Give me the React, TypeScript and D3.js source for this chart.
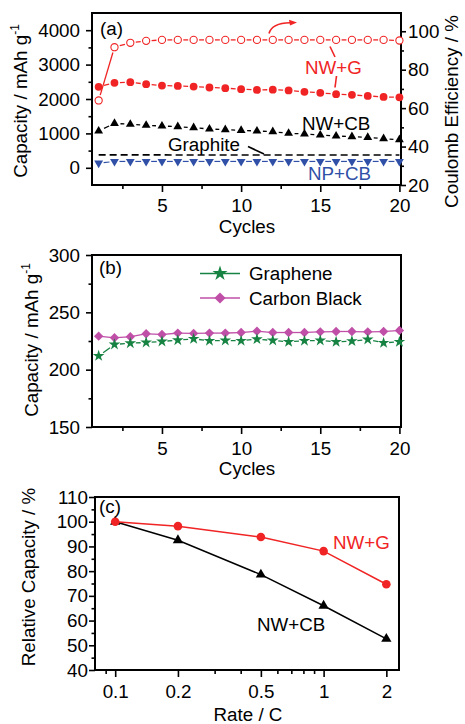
import {
  axisBottom,
  axisLeft,
  axisRight,
  scaleLinear,
  scaleLog,
  select,
  symbol,
  symbolStar,
  symbolSquare,
  symbolTriangle,
} from 'd3'
import { useEffect, useRef } from 'react'

const width = 465
const height = 724

const FONT = '"Liberation Sans", Arial, Helvetica, sans-serif'
const FS = 18.8
const RED = '#f02424'
const BLUE = '#3050a8'
const GREEN = '#178343'
const MAGENTA = '#c04fa8'

// panel (a) – cycling of the different electrodes
const cycles = [1, 2, 3, 4, 5, 6, 7, 8, 9, 10, 11, 12, 13, 14, 15, 16, 17, 18, 19, 20]
const nwgCE = [64, 91.7, 94, 95, 95.5, 95.5, 95.5, 95.5, 95.5, 95.5, 95.5, 95.5, 95.5, 95.5, 95.5, 95.5, 95.5, 95.5, 95.5, 95.2]
const nwgCapacity = [2355, 2470, 2490, 2430, 2390, 2380, 2360, 2335, 2315, 2285, 2265, 2270, 2250, 2210, 2180, 2140, 2120, 2090, 2060, 2050]
const nwcbCapacity = [1070, 1290, 1265, 1235, 1215, 1197, 1166, 1128, 1108, 1088, 1070, 1050, 1003, 985, 953, 924, 905, 886, 848, 817]
const graphiteCapacity = [375, 372, 372, 372, 372, 372, 372, 372, 372, 372, 372, 372, 372, 372, 372, 372, 372, 372, 372, 372]
const npcbCapacity = [135, 185, 185, 185, 185, 185, 185, 185, 185, 185, 185, 185, 185, 185, 185, 185, 185, 185, 185, 185]

// panel (b) – conductive additives alone
const grapheneCapacity = [212, 222, 223.1, 223.7, 224.6, 225.7, 226.9, 225.2, 225.5, 225.2, 226.6, 225.5, 224.3, 225.2, 225.5, 224.3, 224.9, 226.3, 223.4, 224.3]
const carbonBlackCapacity = [229.2, 227.8, 228.7, 231.3, 230.7, 231.9, 231.6, 231.9, 231.9, 232.4, 233.6, 232.4, 232.4, 232.4, 233, 233.3, 233.3, 233, 233.3, 234.2]

// panel (c) – rate capability
const rates = [0.1, 0.2, 0.5, 1, 2]
const nwgRelative = [100, 98.2, 93.8, 88.1, 74.7]
const nwcbRelative = [100, 92.5, 78.6, 66, 52.6]

const cycleTicks = [5, 10, 15, 20]
const cycleMinor = [2.5, 7.5, 12.5, 17.5]
const capTicksA = [0, 1000, 2000, 3000, 4000]
const capMinorA = [500, 1500, 2500, 3500]
const ceTicks = [20, 40, 60, 80, 100]
const ceMinor = [30, 50, 70, 90]
const capTicksB = [150, 200, 250, 300]
const capMinorB = [175, 225, 275]
const relTicks = [40, 50, 60, 70, 80, 90, 100, 110]
const relMinor = [45, 55, 65, 75, 85, 95, 105]
const rateTicks = [0.1, 0.2, 0.5, 1, 2]
const rateMinor = [0.09, 0.3, 0.4, 0.6, 0.7, 0.8, 0.9]

// scales
const xA = scaleLinear().domain([0.58, 20.1]).range([92, 401])
const yA = scaleLinear().domain([-500, 4500]).range([185, 13])
const yCE = scaleLinear().domain([20, 109.5]).range([185, 13])

const xB = scaleLinear().domain([0.58, 20.1]).range([92, 401])
const yB = scaleLinear().domain([150, 300]).range([427, 255])

const xC = scaleLog().domain([0.08, 2.3]).range([95, 399])
const yC = scaleLinear().domain([40, 110]).range([670, 497])

const plain = (d) => String(d)

const Axis = ({ axis, transform, labels = true }) => {
  const ref = useRef(null)
  useEffect(() => {
    const g = select(ref.current)
    g.selectAll('*').remove()
    g.call(axis)
    g.select('.domain').remove()
    g.selectAll('line').attr('stroke', '#000').attr('stroke-width', 1.6)
    g.selectAll('text')
      .attr('font-size', FS)
      .attr('font-family', FONT)
      .attr('fill', '#000')
    if (!labels) g.selectAll('text').remove()
  }, [axis, labels])
  return <g ref={ref} transform={transform} />
}

const gapSegments = (pts, gap) =>
  pts.slice(1).map((p, i) => {
    const q = pts[i]
    const dx = p[0] - q[0]
    const dy = p[1] - q[1]
    const len = Math.hypot(dx, dy)
    if (len <= gap * 2) return null
    const ux = dx / len
    const uy = dy / len
    return [q[0] + ux * gap, q[1] + uy * gap, p[0] - ux * gap, p[1] - uy * gap]
  })

const GapLine = ({ xs, ys, x, y, gap, color, width = 1.3 }) => {
  const pts = xs.map((d, i) => [x(d), y(ys[i])])
  return (
    <g stroke={color} strokeWidth={width}>
      {gapSegments(pts, gap).map((s, i) =>
        s ? <line key={i} x1={s[0]} y1={s[1]} x2={s[2]} y2={s[3]} /> : null,
      )}
    </g>
  )
}

const triUp = symbol(symbolTriangle, 34)()
const triUpBig = symbol(symbolTriangle, 46)()
const diamond = symbol(symbolSquare, 44)()
const star = symbol(symbolStar, 42)()

const Title = ({ x, y, children, rotate = false, color = '#000', anchor = 'middle' }) => (
  <text
    x={rotate ? 0 : x}
    y={rotate ? 0 : y}
    transform={rotate ? `translate(${x},${y}) rotate(-90)` : undefined}
    textAnchor={anchor}
    fontSize={FS}
    fontFamily={FONT}
    fill={color}
  >
    {children}
  </text>
)

const CapLabel = ({ x, y }) => (
  <Title x={x} y={y} rotate>
    Capacity / mAh g
    <tspan fontSize={12} dy={-8}>
      -1
    </tspan>
  </Title>
)

const App = () => {
  const ptsA = (ys, y = yA) => cycles.map((c, i) => [xA(c), y(ys[i])])

  return (
    <svg
      width={width}
      height={height}
      style={{ position: 'absolute', left: 0, top: 0, background: '#fff' }}
    >
      {/* ---------- (a) ---------- */}
      <Axis axis={axisBottom(xA).tickValues(cycleTicks).tickFormat(plain).tickSize(7).tickPadding(7)} transform="translate(0,185)" />
      <Axis axis={axisBottom(xA).tickValues(cycleMinor).tickSize(4)} transform="translate(0,185)" labels={false} />
      <Axis axis={axisLeft(yA).tickValues(capTicksA).tickFormat(plain).tickSize(6).tickPadding(6)} transform="translate(92,0)" />
      <Axis axis={axisLeft(yA).tickValues(capMinorA).tickSize(3.5)} transform="translate(92,0)" labels={false} />
      <Axis axis={axisRight(yCE).tickValues(ceTicks).tickFormat(plain).tickSize(5).tickPadding(2)} transform="translate(401,0)" />
      <Axis axis={axisRight(yCE).tickValues(ceMinor).tickSize(3)} transform="translate(401,0)" labels={false} />
      <rect x={92} y={13} width={309} height={172} fill="none" stroke="#000" strokeWidth={2} />

      <line
        x1={xA(1)} x2={xA(20)}
        y1={yA(graphiteCapacity[0])} y2={yA(graphiteCapacity[19])}
        stroke="#000" strokeWidth={1.6} strokeDasharray="7,4"
      />
      <GapLine xs={cycles} ys={npcbCapacity} x={xA} y={yA} gap={5} color={BLUE} width={1.2} />
      {ptsA(npcbCapacity).map((p, i) => (
        <path key={i} d={triUp} transform={`translate(${p[0]},${p[1]}) rotate(180)`} fill={BLUE} />
      ))}
      <GapLine xs={cycles} ys={nwcbCapacity} x={xA} y={yA} gap={6} color="#000" />
      {ptsA(nwcbCapacity).map((p, i) => (
        <path key={i} d={triUp} transform={`translate(${p[0]},${p[1]})`} fill="#000" />
      ))}
      <GapLine xs={cycles} ys={nwgCapacity} x={xA} y={yA} gap={5.5} color={RED} />
      {ptsA(nwgCapacity).map((p, i) => (
        <circle key={i} cx={p[0]} cy={p[1]} r={3.9} fill={RED} />
      ))}
      <GapLine xs={cycles} ys={nwgCE} x={xA} y={yCE} gap={5.5} color={RED} />
      {ptsA(nwgCE, yCE).map((p, i) => (
        <circle key={i} cx={p[0]} cy={p[1]} r={3.6} fill="#fff" stroke={RED} strokeWidth={1.1} />
      ))}

      <path d="M269,33.5 Q272,23 290,22.8" fill="none" stroke={RED} strokeWidth={1.6} />
      <path d="M297,22.6 L289,19.8 L290,25.6 Z" fill={RED} />
      <line x1={330} y1={46.5} x2={335} y2={57} stroke={RED} strokeWidth={1.6} />
      <line x1={336.5} y1={76} x2={335} y2={87.5} stroke={RED} strokeWidth={1.6} />
      <line x1={248} y1={146.5} x2={264} y2={154} stroke="#000" strokeWidth={1.6} />

      <Title x={100} y={35} anchor="start">(a)</Title>
      <Title x={305} y={73.5} anchor="start" color={RED}>NW+G</Title>
      <Title x={302} y={130} anchor="start">NW+CB</Title>
      <Title x={168} y={151} anchor="start">Graphite</Title>
      <Title x={308} y={180} anchor="start" color={BLUE}>NP+CB</Title>
      <Title x={247} y={233}>Cycles</Title>
      <CapLabel x={27} y={101} />
      <Title x={458} y={111.5} rotate>Coulomb Efficiency / %</Title>

      {/* ---------- (b) ---------- */}
      <Axis axis={axisBottom(xB).tickValues(cycleTicks).tickFormat(plain).tickSize(7).tickPadding(8)} transform="translate(0,427)" />
      <Axis axis={axisBottom(xB).tickValues(cycleMinor).tickSize(4)} transform="translate(0,427)" labels={false} />
      <Axis axis={axisLeft(yB).tickValues(capTicksB).tickFormat(plain).tickSize(6).tickPadding(6)} transform="translate(92,0)" />
      <Axis axis={axisLeft(yB).tickValues(capMinorB).tickSize(3.5)} transform="translate(92,0)" labels={false} />
      <rect x={92} y={255} width={309} height={172} fill="none" stroke="#000" strokeWidth={2} />

      <GapLine xs={cycles} ys={carbonBlackCapacity} x={xB} y={yB} gap={2} color={MAGENTA} />
      {cycles.map((c, i) => (
        <path key={i} d={diamond} transform={`translate(${xB(c)},${yB(carbonBlackCapacity[i])}) rotate(45)`} fill={MAGENTA} />
      ))}
      <GapLine xs={cycles} ys={grapheneCapacity} x={xB} y={yB} gap={5.5} color={GREEN} />
      {cycles.map((c, i) => (
        <path key={i} d={star} transform={`translate(${xB(c)},${yB(grapheneCapacity[i])})`} fill={GREEN} />
      ))}

      <line x1={200} x2={240} y1={273.5} y2={273.5} stroke={GREEN} strokeWidth={1.3} />
      <path d={symbol(symbolStar, 70)()} transform="translate(220,273.5)" fill={GREEN} />
      <line x1={200} x2={240} y1={298} y2={298} stroke={MAGENTA} strokeWidth={1.3} />
      <path d={symbol(symbolSquare, 62)()} transform="translate(220,298) rotate(45)" fill={MAGENTA} />
      <Title x={249} y={280} anchor="start">Graphene</Title>
      <Title x={249} y={304.5} anchor="start">Carbon Black</Title>

      <Title x={99} y={274} anchor="start">(b)</Title>
      <Title x={247} y={475}>Cycles</Title>
      <CapLabel x={38} y={340} />

      {/* ---------- (c) ---------- */}
      <Axis axis={axisBottom(xC).tickValues(rateTicks).tickFormat(plain).tickSize(7).tickPadding(8)} transform="translate(0,670)" />
      <Axis axis={axisBottom(xC).tickValues(rateMinor).tickSize(4)} transform="translate(0,670)" labels={false} />
      <Axis axis={axisLeft(yC).tickValues(relTicks).tickFormat(plain).tickSize(6).tickPadding(1)} transform="translate(95,0)" />
      <Axis axis={axisLeft(yC).tickValues(relMinor).tickSize(3.5)} transform="translate(95,0)" labels={false} />
      <rect x={95} y={497} width={304} height={173} fill="none" stroke="#000" strokeWidth={2} />

      <polyline
        points={rates.map((r, i) => `${xC(r)},${yC(nwcbRelative[i])}`).join(' ')}
        fill="none" stroke="#000" strokeWidth={1.5}
      />
      <polyline
        points={rates.map((r, i) => `${xC(r)},${yC(nwgRelative[i])}`).join(' ')}
        fill="none" stroke={RED} strokeWidth={1.5}
      />
      {rates.map((r, i) => (
        <path key={i} d={triUpBig} transform={`translate(${xC(r)},${yC(nwcbRelative[i])})`} fill="#000" />
      ))}
      {rates.map((r, i) => (
        <circle key={i} cx={xC(r)} cy={yC(nwgRelative[i])} r={4.3} fill={RED} />
      ))}

      <Title x={99} y={513} anchor="start">(c)</Title>
      <Title x={333} y={548.5} anchor="start" color={RED}>NW+G</Title>
      <Title x={257} y={631} anchor="start">NW+CB</Title>
      <Title x={248} y={721}>Rate / C</Title>
      <Title x={35} y={577} rotate>Relative Capacity / %</Title>
    </svg>
  )
}

export default App
